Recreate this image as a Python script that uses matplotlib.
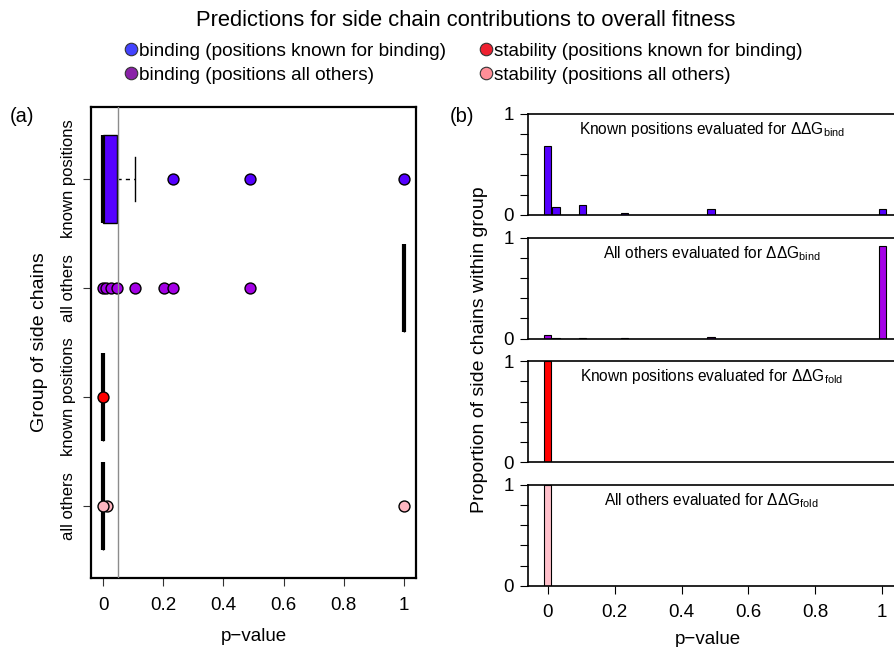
import matplotlib
matplotlib.use("Agg")
import matplotlib.pyplot as plt
from matplotlib.lines import Line2D
import numpy as np

plt.rcParams['font.family'] = ['Liberation Sans', 'DejaVu Sans']
plt.rcParams['mathtext.fontset'] = 'custom'
plt.rcParams['mathtext.rm'] = 'Liberation Sans'

# ---------------- data ----------------
title = "Predictions for side chain contributions to overall fitness"
legend_labels = ["binding (positions known for binding)", "binding (positions all others)",
                 "stability (positions known for binding)", "stability (positions all others)"]
legend_colors = ["#4343ff", "#8a22a8", "#ee2030", "#ff8f98"]

group_labels = ["known positions", "all others", "known positions", "all others"]
group_colors = ["#5500ff", "#a400e6", "#ff0000", "#ffb6c1"]
box_q1 = [0.0, 1.0, 0.0, 0.0]
box_med = [0.0, 1.0, 0.0, 0.0]
box_q3 = [0.048, 1.0, 0.0, 0.0]
whisk_lo = [0.0, 1.0, 0.0, 0.0]
whisk_hi = [0.107, 1.0, 0.0, 0.0]
outliers = [[0.232, 0.487, 1.0],
            [0.0, 0.01, 0.025, 0.048, 0.105, 0.204, 0.232, 0.487],
            [0.0],
            [0.012, 0.0, 1.0]]
threshold = 0.05

# histogram panels (proportion of side chains at each p-value)
hist_titles = ["Known positions evaluated for $\\Delta\\Delta$G$_{\\mathrm{bind}}$",
               "All others evaluated for $\\Delta\\Delta$G$_{\\mathrm{bind}}$",
               "Known positions evaluated for $\\Delta\\Delta$G$_{\\mathrm{fold}}$",
               "All others evaluated for $\\Delta\\Delta$G$_{\\mathrm{fold}}$"]
hist_pvals = [[0.0, 0.025, 0.103, 0.23, 0.488, 1.0],
              [0.0, 0.025, 0.103, 0.23, 0.488, 1.0],
              [0.0],
              [0.0]]
hist_props = [[0.683, 0.077, 0.10, 0.02, 0.06, 0.06],
              [0.04, 0.005, 0.005, 0.002, 0.02, 0.92],
              [1.0],
              [1.0]]
hist_colors = ["#5500ff", "#a400e6", "#ff0000", "#ffc0cb"]
xticks = [0, 0.2, 0.4, 0.6, 0.8, 1]
xticklabels = ["0", "0.2", "0.4", "0.6", "0.8", "1"]

# ---------------- figure ----------------
W, H = 894, 647
fig = plt.figure(figsize=(W / 100, H / 100), dpi=100)

def fr(x0, y0, x1, y1):
    return [x0 / W, 1 - y1 / H, (x1 - x0) / W, (y1 - y0) / H]

fig.text(466 / W, 1 - 20 / H, title, ha='center', va='center', fontsize=15.8)

handles = [Line2D([], [], ls='none', marker='o', ms=9.0, mfc=c, mec='#333333', mew=0.8)
           for c in legend_colors]
fig.legend(handles, legend_labels, ncol=2, loc='center', bbox_to_anchor=(464 / W, 1 - 63 / H),
           frameon=False, fontsize=13.7, handlelength=0.6, handletextpad=0.12,
           columnspacing=1.8, labelspacing=0.34, borderpad=0)

# ---------------- (a) boxplot ----------------
ax = fig.add_axes(fr(91, 107, 416, 578))
positions = [4, 3, 2, 1]
stats = []
for i in range(4):
    stats.append(dict(q1=box_q1[i], med=box_med[i], q3=box_q3[i],
                      whislo=whisk_lo[i], whishi=whisk_hi[i], fliers=[]))
bp = ax.bxp(stats, positions=positions, widths=0.8, orientation='horizontal',
            patch_artist=True, showfliers=False, capwidths=0.4,
            boxprops=dict(edgecolor='black', linewidth=1.0),
            medianprops=dict(color='black', linewidth=3.0, solid_capstyle='butt'),
            whiskerprops=dict(color='black', linewidth=1.0, linestyle=(0, (3, 3))),
            capprops=dict(color='black', linewidth=1.0))
for patch, c in zip(bp['boxes'], group_colors):
    patch.set_facecolor(c)
for i in range(4):
    ax.scatter(outliers[i], [positions[i]] * len(outliers[i]), s=62, c=group_colors[i],
               edgecolors='black', linewidths=1.0, zorder=5)
ax.axvline(threshold, color='#8c8c8c', lw=1.0, zorder=6)
ax.set_xlim(-0.04, 1.04)
ax.set_ylim(0.34, 4.66)
ax.set_yticks(positions)
ax.set_yticklabels(group_labels, rotation=90, va='center', fontsize=12)
ax.set_xticks(xticks)
ax.set_xticklabels(xticklabels, fontsize=13.5)
ax.tick_params(axis='both', length=6, width=0.8, color='#333333')
ax.tick_params(axis='x', pad=8)
ax.tick_params(axis='y', pad=5)
for s in ax.spines.values():
    s.set_linewidth(1.6)
ax.set_xlabel("p\u2212value", fontsize=13.5, labelpad=10)
ax.set_ylabel("Group of side chains", fontsize=14, labelpad=9)
fig.text(22 / W, 1 - 117 / H, "(a)", ha='center', va='center', fontsize=14.5)

# ---------------- (b) histograms ----------------
tops = [114, 237.6, 361.2, 484.8]
ph = 101
for k in range(4):
    a = fig.add_axes(fr(528, tops[k], 900, tops[k] + ph))
    a.bar(hist_pvals[k], hist_props[k], width=0.022, color=hist_colors[k],
          edgecolor='black', linewidth=0.8, align='center')
    a.set_xlim(-0.059, 1.053)
    a.set_ylim(0, 1)
    a.set_yticks([0, 0.2, 0.4, 0.6, 0.8, 1])
    a.set_yticklabels(["0", "", "", "", "", "1"], fontsize=13.5)
    a.tick_params(axis='y', length=6, width=0.8, pad=4)
    for s in a.spines.values():
        s.set_linewidth(1.2)
    a.text(0.49, 0.845, hist_titles[k], ha='center', va='center', fontsize=11.2)
    if k < 3:
        a.set_xticks([])
    else:
        a.set_xticks(xticks)
        a.set_xticklabels(xticklabels, fontsize=13.5)
        a.tick_params(axis='x', length=6, width=0.8, pad=7)
        a.set_xlabel("p\u2212value", fontsize=13.5)
        a.xaxis.set_label_coords((708 - 528) / (900 - 528), -0.45)
fig.text(480 / W, 1 - 350 / H, "Proportion of side chains within group", rotation=90,
         ha='center', va='center', fontsize=14)
fig.text(462 / W, 1 - 117 / H, "(b)", ha='center', va='center', fontsize=14.5)

fig.savefig("out.png", dpi=100)
